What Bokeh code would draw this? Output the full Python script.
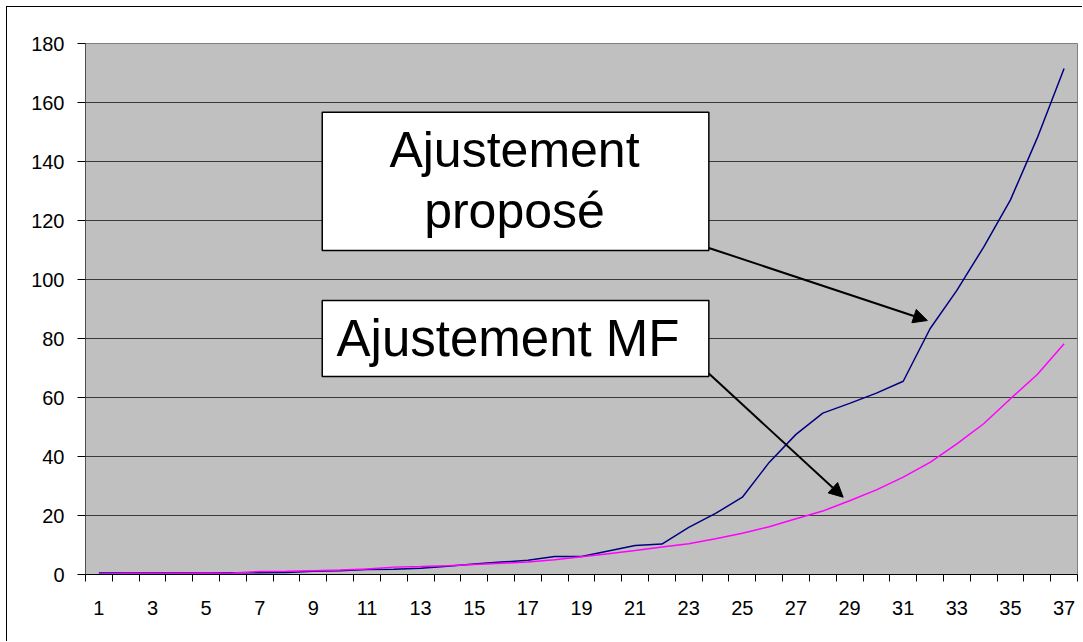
from bokeh.plotting import figure
from bokeh.layouts import column
from bokeh.models import (FixedTicker, BoxAnnotation, Label, Arrow, NormalHead, Range1d)
from bokeh.embed import file_html
from bokeh.resources import INLINE

categories = list(range(1, 38))
ajustement_propose = [0.5, 0.5, 0.5, 0.5, 0.5, 0.6, 0.6, 0.7, 1.1, 1.3, 1.7, 1.8, 2.1, 2.8, 3.6, 4.2, 4.8,
                      6.1, 6.1, 8.0, 9.8, 10.3, 16.0, 20.7, 26.2, 38.0, 47.5, 54.7, 58.0, 61.5, 65.5,
                      83.3, 96.3, 111.0, 127.0, 148.0, 171.5]
ajustement_mf = [0.2, 0.3, 0.3, 0.3, 0.4, 0.5, 1.0, 1.1, 1.3, 1.5, 1.9, 2.5, 2.7, 3.0, 3.4, 3.8, 4.2,
                 5.0, 6.0, 7.0, 8.1, 9.3, 10.4, 12.1, 14.0, 16.2, 18.9, 21.5, 25.0, 28.7, 33.0,
                 38.0, 44.3, 51.1, 59.6, 67.8, 78.2]
y_ticks = [0, 20, 40, 60, 80, 100, 120, 140, 160, 180]
x_tick_labels = [c for c in categories if c % 2 == 1]

FONT = "Liberation Sans"

p = figure(width=1076, height=635, output_backend="svg", toolbar_location=None,
           x_range=Range1d(0.5, len(categories) + 0.5), y_range=Range1d(0, 180),
           min_border_left=78, min_border_top=36, min_border_right=6, min_border_bottom=68,
           background_fill_color="#C0C0C0", border_fill_color="white")
p.styles = {"border-top": "1px solid black", "border-left": "1px solid black"}
p.outline_line_color = "#808080"
p.outline_line_width = 1

# axes
p.xaxis.ticker = FixedTicker(ticks=x_tick_labels,
                             minor_ticks=[c - 0.5 for c in categories] + [len(categories) + 0.5])
p.xaxis.major_tick_out = 0
p.xaxis.major_tick_in = 0
p.xaxis.minor_tick_out = 7
p.xaxis.minor_tick_in = 0
p.xaxis.minor_tick_line_color = "black"
p.xaxis.axis_line_color = "black"
p.xaxis.major_label_text_font = FONT
p.xaxis.major_label_text_font_size = "20px"
p.xaxis.major_label_text_color = "black"
p.xaxis.major_label_standoff = 19

p.yaxis.ticker = FixedTicker(ticks=y_ticks)
p.yaxis.major_tick_out = 8
p.yaxis.major_tick_in = 0
p.yaxis.minor_tick_out = 0
p.yaxis.minor_tick_in = 0
p.yaxis.major_tick_line_color = "black"
p.yaxis.axis_line_color = "#505050"
p.yaxis.major_label_text_font = FONT
p.yaxis.major_label_text_font_size = "20px"
p.yaxis.major_label_text_color = "black"
p.yaxis.major_label_standoff = 13

p.xgrid.grid_line_color = None
p.ygrid.grid_line_color = "#3a3a3a"
p.ygrid.grid_line_width = 1

# series
p.line(categories, ajustement_propose, line_color="#000080", line_width=1.5)
p.line(categories, ajustement_mf, line_color="#FF00FF", line_width=1.5)

# callout boxes
p.add_layout(BoxAnnotation(left=9.33, right=23.75, top=156.7, bottom=109.8,
                           fill_color="white", fill_alpha=1, line_color="black", line_alpha=1,
                           line_width=1.5))
p.add_layout(BoxAnnotation(left=9.33, right=23.75, top=92.9, bottom=67.1,
                           fill_color="white", fill_alpha=1, line_color="black", line_alpha=1,
                           line_width=1.5))
for txt, xx, yy, fs in [("Ajustement", 16.5, 143.9, "50px"), ("proposé", 16.5, 123.1, "50px"),
                        ("Ajustement MF", 16.26, 80.0, "51px")]:
    p.add_layout(Label(x=xx, y=yy, text=txt, text_align="center", text_baseline="alphabetic",
                       text_font=FONT, text_font_size=fs, text_color="black"))

# arrows
p.add_layout(Arrow(x_start=23.75, y_start=110.7, x_end=31.9, y_end=86.1, line_color="black", line_width=2,
                   end=NormalHead(size=14, fill_color="black", line_color="black")))
p.add_layout(Arrow(x_start=23.75, y_start=68.1, x_end=28.76, y_end=26.2, line_color="black", line_width=2,
                   end=NormalHead(size=14, fill_color="black", line_color="black")))

layout = column(p, styles={"padding-left": "6px", "padding-top": "6px"})

open("out.html", "w").write(file_html(layout, INLINE))
